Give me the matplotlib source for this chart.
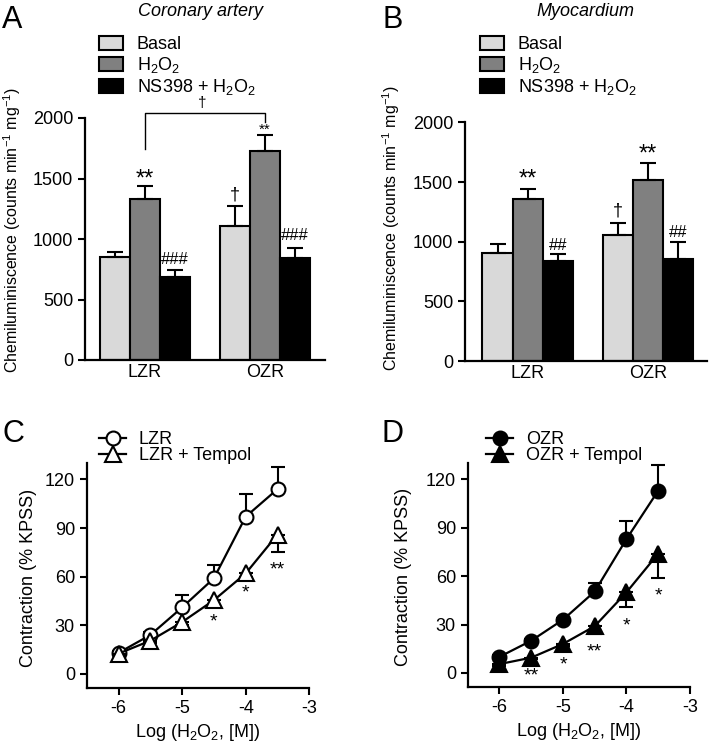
import numpy as np
import matplotlib.pyplot as plt

plt.rcParams['font.family'] = ['Liberation Sans', 'DejaVu Sans']
plt.rcParams['mathtext.fontset'] = 'custom'
plt.rcParams['mathtext.rm'] = 'Liberation Sans'
plt.rcParams['mathtext.it'] = 'Liberation Sans:italic'
plt.rcParams['axes.unicode_minus'] = False
plt.rcParams['font.size'] = 12

# bar panels
groups = ['LZR', 'OZR']
bar_labels = ['Basal', 'H$_2$O$_2$', 'NS398 + H$_2$O$_2$']
bar_colors = ['#d9d9d9', '#808080', '#000000']

coronary_mean = [[850, 1110], [1330, 1730], [690, 845]]
coronary_sem = [[45, 160], [110, 130], [55, 78]]
myo_mean = [[905, 1060], [1360, 1520], [840, 855]]
myo_sem = [[80, 100], [85, 140], [60, 140]]

# (x, y, text, size)
coronary_sig = [(0, 1490, '**', 17), (0.75, 1360, '†', 13), (0.25, 830, '###', 12),
                (1.25, 1030, '###', 12), (1, 1905, '**', 11)]
myo_sig = [(0, 1520, '**', 17), (1, 1730, '**', 17), (0.75, 1260, '†', 13),
           (0.25, 965, '##', 12), (1.25, 1075, '##', 12)]

# concentration-response panels
logc = [-6, -5.5, -5, -4.5, -4, -3.5]
lzr = [13, 24, 41, 59, 97, 114]
lzr_err = [1, 2, 7.5, 8, 14, 13.5]
lzr_tempol = [12.5, 20.5, 32, 45.5, 62, 86]
lzr_tempol_err = [1, 1.5, 2, 4, 2, 11]
ozr = [10, 20, 33, 50.5, 83, 113]
ozr_err = [1, 1, 1, 5, 11, 16]
ozr_tempol = [5.5, 9.5, 18, 29, 50, 74]
ozr_tempol_err = [1, 1, 1, 5, 9, 15]

lzr_sig = [(-4.5, 32, '*'), (-4, 50, '*'), (-3.5, 64, '**')]
ozr_sig = [(-5.5, -2, '**'), (-5, 5, '*'), (-4.5, 13, '**'), (-4, 29, '*'), (-3.5, 48, '*')]

fig = plt.figure(figsize=(7.09, 7.43), dpi=100)
W, H = 709, 743


def style(ax):
    for s in ['top', 'right']:
        ax.spines[s].set_visible(False)
    for s in ['left', 'bottom']:
        ax.spines[s].set_linewidth(1.6)
    ax.tick_params(width=1.5, length=5, labelsize=13)


def bar_panel(ax, means, sems, sig, xlim, leg_xy):
    x = np.arange(len(groups))
    w = 0.25
    for i in range(3):
        ax.bar(x + (i - 1) * w, means[i], w, yerr=[np.zeros(2), sems[i]],
               color=bar_colors[i], edgecolor='black', linewidth=1.5,
               label=bar_labels[i], zorder=2,
               error_kw=dict(elinewidth=1.5, capsize=6, capthick=1.5, ecolor='black'))
    style(ax)
    ax.set_xlim(*xlim)
    ax.set_ylim(0, 2000)
    ax.set_yticks(range(0, 2001, 500))
    ax.set_xticks(x)
    ax.set_xticklabels(groups, fontsize=13)
    ax.tick_params(axis='x', length=0, pad=3)
    ax.set_ylabel('Chemiluminiscence (counts min$^{-1}$ mg$^{-1}$)', fontsize=11.5)
    for xs, ys, t, fs in sig:
        ax.text(xs, ys, t, ha='center', va='center', fontsize=fs)
    ax.legend(loc='upper left', bbox_to_anchor=(leg_xy[0] / W, 1 - leg_xy[1] / H),
              bbox_transform=fig.transFigure, frameon=False, fontsize=13,
              borderpad=0, borderaxespad=0, handlelength=1.35, handleheight=0.85,
              handletextpad=0.75, labelspacing=0.1)


def line_panel(ax, y1, e1, y2, e2, names, filled, sig, leg_xy):
    fc = 'black' if filled else 'white'
    z = np.zeros(len(logc))
    ax.errorbar(logc, y1, yerr=[z, e1], fmt='-o', color='black', mfc=fc, ms=10,
                mew=1.5, lw=1.6, capsize=5, elinewidth=1.5, capthick=1.5, zorder=3)
    ax.errorbar(logc, y2, yerr=[e2, z], fmt='-^', color='black', mfc=fc, ms=11,
                mew=1.5, lw=1.6, capsize=5, elinewidth=1.5, capthick=1.5, zorder=4)
    h1, = ax.plot([], [], '-o', color='black', mfc=fc, ms=10, mew=1.5, lw=1.6)
    h2, = ax.plot([], [], '-^', color='black', mfc=fc, ms=11, mew=1.5, lw=1.6)
    style(ax)
    ax.set_xlim(-6.5, -3)
    ax.set_ylim(-8.5, 130)
    ax.set_xticks([-6, -5, -4, -3])
    ax.set_yticks(range(0, 121, 30))
    ax.set_xlabel('Log (H$_2$O$_2$, [M])', fontsize=13, labelpad=4)
    ax.set_ylabel('Contraction (% KPSS)', fontsize=13)
    for xs, ys, t in sig:
        ax.text(xs, ys, t, ha='center', va='center', fontsize=14)
    ax.legend([h1, h2], names, loc='upper left',
              bbox_to_anchor=(leg_xy[0] / W, 1 - leg_xy[1] / H),
              bbox_transform=fig.transFigure, frameon=False, fontsize=13,
              borderpad=0, borderaxespad=0, handlelength=1.5,
              handletextpad=0.7, labelspacing=-0.05)


axA = fig.add_axes([85 / W, 1 - 360 / H, 240 / W, 242 / H])
axB = fig.add_axes([465 / W, 1 - 361 / H, 242 / W, 238.5 / H])
axC = fig.add_axes([86.7 / W, 1 - 687.7 / H, 222.6 / W, 224.5 / H])
axD = fig.add_axes([467.7 / W, 1 - 686.7 / H, 222.3 / W, 223.5 / H])

bar_panel(axA, coronary_mean, coronary_sem, coronary_sig, (-0.5, 1.5), (99, 36))
bar_panel(axB, myo_mean, myo_sem, myo_sig, (-0.52, 1.49), (480, 36))
axA.yaxis.set_label_coords(-0.258, 0.537)
axB.yaxis.set_label_coords(-0.262, 0.555)

# bracket between H2O2 bars in A
axA.plot([0, 0, 1, 1], [1740, 2040, 2040, 1965], color='black', lw=1, clip_on=False)
axA.text(0.48, 2120, '†', ha='center', va='center', fontsize=11)

line_panel(axC, lzr, lzr_err, lzr_tempol, lzr_tempol_err,
           ['LZR', 'LZR + Tempol'], False, lzr_sig, (99, 431))
line_panel(axD, ozr, ozr_err, ozr_tempol, ozr_tempol_err,
           ['OZR', 'OZR + Tempol'], True, ozr_sig, (486, 431))
axC.yaxis.set_label_coords(-0.225, 0.49)
axD.yaxis.set_label_coords(-0.25, 0.49)

fig.text(200 / W, 1 - 12 / H, 'Coronary artery', ha='center', va='center',
         fontsize=13, style='italic')
fig.text(585 / W, 1 - 12 / H, 'Myocardium', ha='center', va='center',
         fontsize=13, style='italic')
for lx, ly, letter in [(2, 28, 'A'), (382, 28, 'B'), (2, 442, 'C'), (381, 442, 'D')]:
    fig.text(lx / W, 1 - ly / H, letter, ha='left', va='baseline', fontsize=22)

fig.savefig('out.png', dpi=100)
